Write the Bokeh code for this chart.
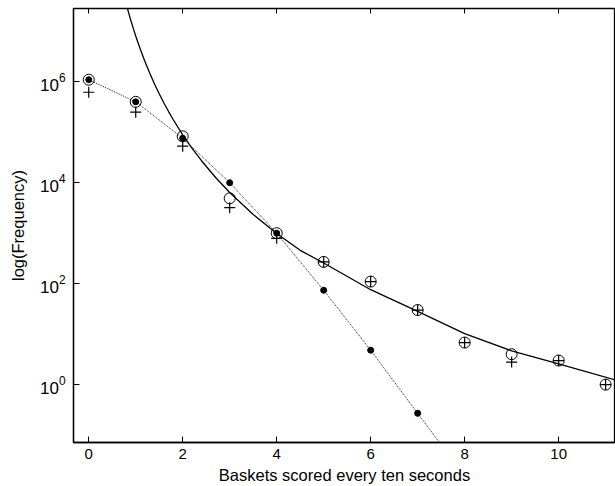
from bokeh.plotting import figure
from bokeh.models import Range1d, LinearAxis, FixedTicker, LogTickFormatter
from bokeh.embed import file_html
from bokeh.resources import INLINE

# ---- data ----
baskets = [0, 1, 2, 3, 4, 5, 6, 7, 8, 9, 10, 11]
observed = [1.1e6, 4.0e5, 8.3e4, 4.9e3, 1.0e3, 270, 110, 30, 6.8, 4.0, 3.0, 1.0]
plus_vals = [6.2e5, 2.5e5, 5.3e4, 3.2e3, 790, 270, 110, 30, 6.8, 2.8, 3.0, 1.0]

dot_x = [0, 1, 2, 3, 4, 5, 6, 7]
dot_y = [1.1e6, 4.0e5, 7.6e4, 1.0e4, 1.0e3, 74, 4.8, 0.27]

# fitted (solid) curve
curve_x = [0.80, 0.85, 0.9, 0.95, 1.0, 1.1, 1.2, 1.3, 1.4, 1.5, 1.6, 1.7, 1.8,
           2.0, 2.2, 2.4, 2.7, 3.0, 3.5, 4.0, 4.5, 5.0, 6.0, 7.0, 8.0, 9.0,
           10.0, 11.3]
curve_y = [3.44e7, 2.32e7, 1.60e7, 1.13e7, 8.07e6, 4.35e6, 2.47e6, 1.47e6,
           9.06e5, 5.78e5, 3.80e5, 2.57e5, 1.77e5, 8.9e4, 4.80e4, 2.73e4,
           1.27e4, 6.40e3, 2.35e3, 984, 458, 257, 75.9, 28.2, 10.2, 4.68,
           2.57, 1.17]

x_ticks = [0, 2, 4, 6, 8, 10]
y_ticks = [1, 1e2, 1e4, 1e6]

# extend dotted line beyond last dot (log-linear extrapolation)
ext_x = 7.8
ext_y = dot_y[-1] * (dot_y[-1] / dot_y[-2]) ** (ext_x - dot_x[-1])
line_x = dot_x + [ext_x]
line_y = dot_y + [ext_y]

FONT = "Liberation Sans"

p = figure(width=615, height=486, output_backend="svg", toolbar_location=None,
           y_axis_type="log",
           x_range=Range1d(-0.324, 11.21), y_range=Range1d(0.0713, 2.83e7),
           min_border_left=73, min_border_right=0, min_border_top=8,
           min_border_bottom=44)
p.background_fill_color = "white"
p.border_fill_color = "white"
p.outline_line_color = "black"
p.outline_line_width = 1.3
p.xgrid.visible = False
p.ygrid.visible = False

# curves
p.line(curve_x, curve_y, line_color="black", line_width=1.3)
p.line(line_x, line_y, line_color="#222222", line_width=1, line_dash="1 1")

# markers
p.scatter(baskets, observed, marker="circle", size=11, fill_color=None,
          line_color="black", line_width=1)
p.scatter(baskets, plus_vals, marker="cross", size=11, line_color="black",
          line_width=1.2)
p.scatter(dot_x, dot_y, marker="circle", size=6, fill_color="black",
          line_color="black")

# x axis
xa = p.xaxis[0]
xa.ticker = FixedTicker(ticks=x_ticks)
xa.minor_tick_line_color = None
xa.major_tick_in = 6
xa.major_tick_out = 0
xa.axis_line_color = "black"
xa.axis_line_width = 1.3
xa.major_label_text_font = FONT
xa.major_label_text_font_size = "15px"
xa.major_label_text_color = "black"
xa.major_label_standoff = 6
xa.axis_label = "Baskets scored every ten seconds"
xa.axis_label_text_font = FONT
xa.axis_label_text_font_size = "16.5px"
xa.axis_label_text_font_style = "normal"
xa.axis_label_text_color = "black"
xa.axis_label_standoff = 4

# y axis
ya = p.yaxis[0]
ya.ticker = FixedTicker(ticks=y_ticks)
ya.formatter = LogTickFormatter()
ya.minor_tick_line_color = None
ya.major_tick_in = 6
ya.major_tick_out = 0
ya.axis_line_color = "black"
ya.axis_line_width = 1.3
ya.major_label_text_font = FONT
ya.major_label_text_font_size = "17px"
ya.major_label_text_color = "black"
ya.major_label_standoff = 8
ya.axis_label = "log(Frequency)"
ya.axis_label_text_font = FONT
ya.axis_label_text_font_size = "16.5px"
ya.axis_label_text_font_style = "normal"
ya.axis_label_text_color = "black"
ya.axis_label_standoff = 10

# mirrored top ticks (no labels)
top = LinearAxis(ticker=FixedTicker(ticks=x_ticks), axis_line_color=None,
                 major_tick_in=5, major_tick_out=0, minor_tick_line_color=None,
                 major_label_text_font_size="1px", major_label_text_color=None,
                 major_label_standoff=0)
p.add_layout(top, "above")

open("out.html", "w").write(file_html(p, INLINE))
